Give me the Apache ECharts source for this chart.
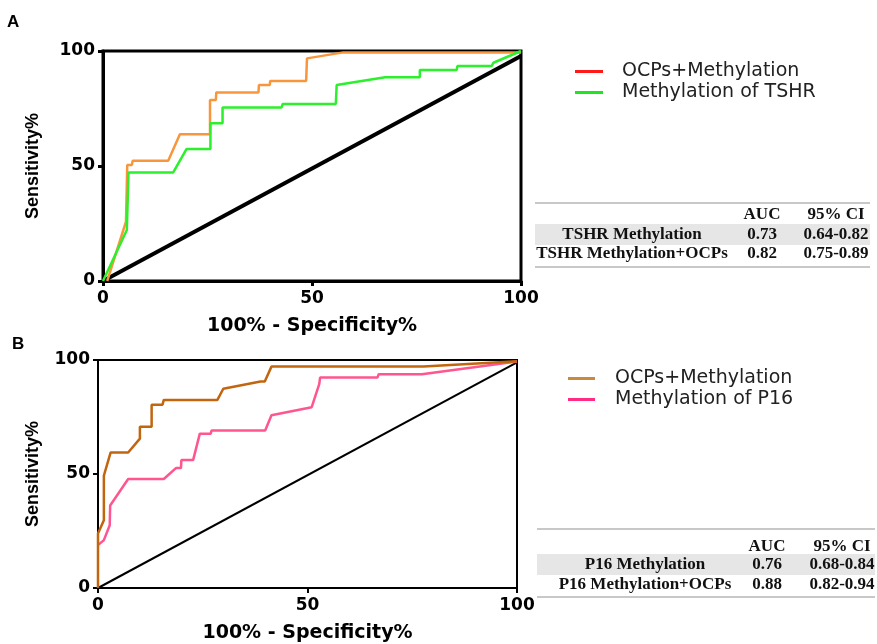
<!DOCTYPE html>
<html>
<head>
<meta charset="utf-8">
<script src="https://cdn.jsdelivr.net/npm/echarts@6/dist/echarts.min.js"></script>
<style>html,body{margin:0;background:#fff}#main{width:877px;height:644px}</style>
</head>
<body>
<div id="main"></div>
<script>
// panel A - TSHR, points as [100% - specificity, sensitivity]
const tshrCombined = [[1,0],[5.5,25.8],[5.8,50.4],[6.9,50.4],[7.1,52.3],[15.6,52.3],[18.4,63.8],[25.6,63.8],[25.6,78.7],[27,78.7],[27.1,82],[37.2,82],[37.3,85.2],[39.9,85.2],[40,87],[48.6,87],[48.8,96.8],[57.5,99.4],[100,99.4]];
const tshrOnly = [[0,0],[5.7,22.2],[6.1,47.2],[16.8,47.2],[20,57.4],[25.7,57.4],[25.7,68.6],[28.6,68.6],[28.6,75.4],[42.7,75.4],[43,77],[55.7,77],[55.9,85.2],[67.5,88.6],[75.8,88.6],[75.8,91.7],[84.6,91.7],[84.8,93.5],[93,93.5],[93.4,94.9],[100,100]];
const refA = [[0,0],[100,97.8]];

// panel B - P16
const p16Combined = [[0,0],[0,23.9],[1.4,29.7],[1.4,49.3],[3,59.4],[7.2,59.4],[10,65.5],[10,70.7],[12.8,70.7],[12.8,80.4],[15.4,80.4],[15.7,82.5],[28.5,82.5],[29.9,87.4],[38.8,90.6],[39.8,90.6],[41.4,97.1],[77.7,97.1],[100,99.5]];
const p16Only = [[0,18.8],[1.4,21],[2.8,27.5],[2.9,36.2],[7.2,47.8],[15.7,47.8],[18.6,52.6],[19.8,52.6],[19.9,56.1],[22.7,56.1],[24.3,67.7],[26.9,67.7],[27.1,69.1],[39.9,69.1],[41.4,75.8],[51,79.3],[52.8,89.4],[53,92.3],[66.7,92.3],[67,93.8],[77.3,93.8],[100,99.3]];
const refB = [[0,0],[100,99]];

const legendA = ['OCPs+Methylation', 'Methylation of TSHR'];
const legendB = ['OCPs+Methylation', 'Methylation of P16'];
const tableHead = ['AUC', '95% CI'];
const tableA = [['TSHR Methylation', '0.73', '0.64-0.82'], ['TSHR Methylation+OCPs', '0.82', '0.75-0.89']];
const tableB = [['P16 Methylation', '0.76', '0.68-0.84'], ['P16 Methylation+OCPs', '0.88', '0.82-0.94']];

const chart = echarts.init(document.getElementById('main'));

function xAxisFor(idx, lw) {
  return {
    type: 'value', gridIndex: idx, min: 0, max: 100, interval: 50,
    axisLine: { lineStyle: { color: '#000', width: lw } },
    axisTick: { length: 5, lineStyle: { color: '#000', width: lw } },
    axisLabel: { color: '#000', fontFamily: 'DejaVu Sans', fontWeight: 'bold', fontSize: 17, margin: 9 },
    splitLine: { show: false },
    name: '100% - Specificity%', nameLocation: 'middle', nameGap: 36,
    nameTextStyle: { color: '#000', fontFamily: 'DejaVu Sans', fontWeight: 'bold', fontSize: 19 }
  };
}
function yAxisFor(idx, lw, gap) {
  return {
    type: 'value', gridIndex: idx, min: 0, max: 100, interval: 50,
    axisLine: { lineStyle: { color: '#000', width: lw } },
    axisTick: { length: 5, lineStyle: { color: '#000', width: lw } },
    axisLabel: { color: '#000', fontFamily: 'DejaVu Sans', fontWeight: 'bold', fontSize: 17, margin: 8 },
    splitLine: { show: false },
    name: 'Sensitivity%', nameLocation: 'middle', nameGap: gap,
    nameTextStyle: { color: '#000', fontFamily: 'Liberation Sans', fontWeight: 'bold', fontSize: 18 }
  };
}
function curve(name, data, idx, color, w) {
  return {
    name: name, type: 'line', data: data, xAxisIndex: idx, yAxisIndex: idx,
    symbol: 'none', lineStyle: { color: color, width: w }, itemStyle: { color: color }
  };
}

// table drawn with graphic elements
function table(rows, x1, x2, top, head, band, row2, bottom, cols) {
  const font = { fontFamily: 'Liberation Serif', fontWeight: 'bold', fontSize: 17, fill: '#111' };
  const els = [
    { type: 'line', shape: { x1: x1, y1: top, x2: x2, y2: top }, style: { stroke: '#c8c8c8', lineWidth: 2 } },
    { type: 'rect', shape: { x: x1, y: band[0], width: x2 - x1, height: band[1] - band[0] }, style: { fill: '#e6e6e6' } },
    { type: 'line', shape: { x1: x1, y1: bottom, x2: x2, y2: bottom }, style: { stroke: '#c8c8c8', lineWidth: 2 } }
  ];
  const ys = [(band[0] + band[1]) / 2, row2];
  tableHead.forEach((h, i) => {
    els.push({ type: 'text', x: cols[i + 1], y: head, style: Object.assign({ text: h, align: 'center', verticalAlign: 'middle', textAlign: 'center', textVerticalAlign: 'middle' }, font) });
  });
  rows.forEach((r, j) => {
    r.forEach((t, i) => {
      els.push({ type: 'text', x: cols[i], y: ys[j], style: Object.assign({ text: t, align: 'center', verticalAlign: 'middle', textAlign: 'center', textVerticalAlign: 'middle' }, font) });
    });
  });
  return els;
}

const panelFont = { fontFamily: 'Liberation Sans', fontWeight: 'bold', fontSize: 17, fill: '#000', verticalAlign: 'middle', textVerticalAlign: 'middle' };

chart.setOption({
  animation: false,
  backgroundColor: '#fff',
  grid: [
    { left: 103, top: 51, width: 418, height: 230, show: true, borderColor: '#000', borderWidth: 3 },
    { left: 98, top: 360, width: 419, height: 230, show: true, borderColor: '#000', borderWidth: 2 }
  ],
  xAxis: [xAxisFor(0, 3), xAxisFor(1, 2)],
  yAxis: [yAxisFor(0, 3, 61), yAxisFor(1, 2, 56)],
  legend: [
    {
      orient: 'vertical', left: 575, top: 62, padding: 0, itemGap: 2, itemWidth: 28, itemHeight: 3, icon: 'rect',
      textStyle: { fontFamily: 'DejaVu Sans', fontSize: 19, color: '#222', padding: [0, 0, 0, 14] },
      data: [{ name: legendA[0], itemStyle: { color: '#ff1a1a' } }, { name: legendA[1], itemStyle: { color: '#1ee61e' } }]
    },
    {
      orient: 'vertical', left: 568, top: 369, padding: 0, itemGap: 2, itemWidth: 27, itemHeight: 3, icon: 'rect',
      textStyle: { fontFamily: 'DejaVu Sans', fontSize: 19, color: '#222', padding: [0, 0, 0, 15] },
      data: [{ name: legendB[0], itemStyle: { color: '#c98a3c' } }, { name: legendB[1], itemStyle: { color: '#ff2b86' } }]
    }
  ],
  series: [
    curve('diagA', refA, 0, '#000', 4),
    curve(legendA[0], tshrCombined, 0, '#f8963c', 2.5),
    curve(legendA[1], tshrOnly, 0, '#2bf02b', 2.5),
    curve('diagB', refB, 1, '#000', 2),
    curve(legendB[1], p16Only, 1, '#ff5590', 2.5),
    curve(legendB[0] + ' ', p16Combined, 1, '#c2650f', 2.5)
  ],
  graphic: [
    { type: 'text', x: 7, y: 22, style: Object.assign({ text: 'A' }, panelFont) },
    { type: 'text', x: 12, y: 344, style: Object.assign({ text: 'B' }, panelFont) }
  ]
    .concat(table(tableA, 535, 870, 203, 215, [224, 245], 254, 267, [632, 762, 836]))
    .concat(table(tableB, 537, 875, 529, 547, [554, 575], 585, 597, [645, 767, 842]))
});
</script>
</body>
</html>
